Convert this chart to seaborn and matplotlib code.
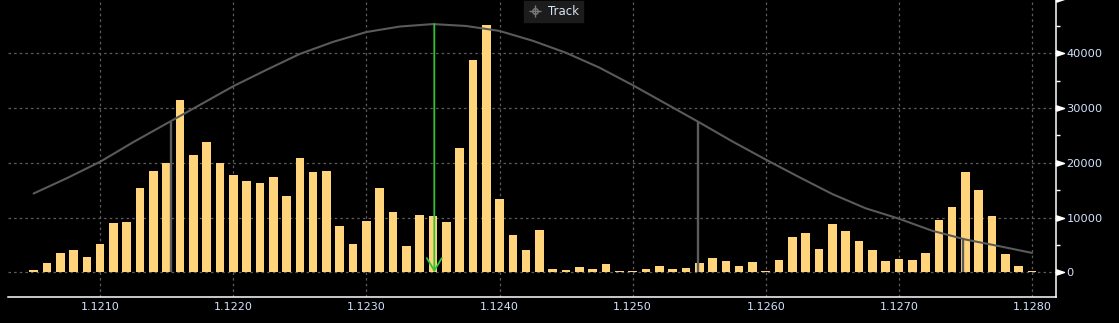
import matplotlib
matplotlib.use("Agg")
import matplotlib.pyplot as plt
import seaborn as sns
import pandas as pd
from matplotlib.lines import Line2D

# ---------------- data ----------------
prices = [1.1205, 1.1206, 1.1207, 1.1208, 1.1209, 1.1210, 1.1211, 1.1212, 1.1213, 1.1214,
          1.1215, 1.1216, 1.1217, 1.1218, 1.1219, 1.1220, 1.1221, 1.1222, 1.1223, 1.1224,
          1.1225, 1.1226, 1.1227, 1.1228, 1.1229, 1.1230, 1.1231, 1.1232, 1.1233, 1.1234,
          1.1235, 1.1236, 1.1237, 1.1238, 1.1239, 1.1240, 1.1241, 1.1242, 1.1243, 1.1244,
          1.1245, 1.1246, 1.1247, 1.1248, 1.1249, 1.1250, 1.1251, 1.1252, 1.1253, 1.1254,
          1.1255, 1.1256, 1.1257, 1.1258, 1.1259, 1.1260, 1.1261, 1.1262, 1.1263, 1.1264,
          1.1265, 1.1266, 1.1267, 1.1268, 1.1269, 1.1270, 1.1271, 1.1272, 1.1273, 1.1274,
          1.1275, 1.1276, 1.1277, 1.1278, 1.1279, 1.1280]
volumes = [400, 1700, 3500, 4000, 2800, 5150, 9000, 9150, 15350, 18600,
           19900, 31500, 21500, 23900, 19900, 17700, 16600, 16250, 17350, 13900,
           20800, 18400, 18600, 8400, 5150, 9350, 15350, 11000, 4800, 10400,
           10250, 9150, 22800, 38800, 45150, 13350, 6800, 4050, 7700, 600,
           400, 950, 600, 1500, 250, 250, 600, 1150, 600, 800,
           1700, 2600, 2050, 1150, 1900, 250, 2250, 6400, 7150, 4250,
           8800, 7500, 5700, 4050, 2050, 2400, 2250, 3500, 9500, 11900,
           18400, 15000, 10250, 3350, 1150, 250]

curve_x = [1.1205, 1.12075, 1.1210, 1.12125, 1.1215, 1.12175, 1.1220, 1.12225, 1.1225,
           1.12275, 1.1230, 1.12325, 1.1235, 1.12375, 1.1240, 1.12425, 1.1245, 1.12475,
           1.1250, 1.12525, 1.1255, 1.12575, 1.1260, 1.12625, 1.1265, 1.12675, 1.1270,
           1.12725, 1.1275, 1.12775, 1.1280]
curve_y = [14400, 17200, 20200, 23800, 27200, 30600, 34000, 37000, 39900,
           42100, 43900, 44900, 45350, 45000, 44100, 42300, 40100, 37400,
           34200, 30800, 27400, 23900, 20600, 17400, 14300, 11700, 9800,
           7600, 6000, 4800, 3550]

sigma_x = [1.12153, 1.12549, 1.12748]
sigma_top = [27500, 27500, 6200]
mean_x = 1.12351
mean_top = 45350

x_ticks = [1.1210, 1.1220, 1.1230, 1.1240, 1.1250, 1.1260, 1.1270, 1.1280]
y_ticks = [0, 10000, 20000, 30000, 40000]
y_marks = [0, 10000, 20000, 30000, 40000, 50000]
y_minor = [5000, 15000, 25000, 35000, 45000]
legend_label = "Track"

# ---------------- style ----------------
sns.set_theme(style="dark")
plt.rcParams["font.family"] = ["DejaVu Sans"]

BAR = "#FFD47A"
LABEL = "#d2e3ff"
GRID = "#5e5e5e"

fig = plt.figure(figsize=(11.19, 3.23), dpi=100, facecolor="black")
ax = fig.add_axes([8.3 / 1119, 1 - 296.7 / 323, (1056 - 8.3) / 1119, 296.7 / 323])
ax.set_facecolor("black")

df = pd.DataFrame({"price": prices, "volume": volumes})
sns.barplot(data=df, x="price", y="volume", native_scale=True, width=0.65,
            color=BAR, saturation=1, linewidth=0, ax=ax, zorder=2, errorbar=None)

sns.lineplot(x=curve_x, y=curve_y, color="#5a5a5a", linewidth=1.5, ax=ax, zorder=3)

ax.vlines(sigma_x, 0, sigma_top, colors="#5c5c5c", linewidth=1.7, zorder=4)

ax.annotate("", xy=(mean_x, 0), xytext=(mean_x, mean_top),
            arrowprops=dict(arrowstyle="->,head_length=0.45,head_width=0.27",
                            color="#33c233", lw=1.3, shrinkA=0, shrinkB=0,
                            mutation_scale=20), zorder=5)

ax.set_xlim(1.12031, 1.12818)
ax.set_ylim(-4450, 49750)

ax.set_xticks(x_ticks)
ax.set_xticklabels([f"{v:.4f}" for v in x_ticks])
ax.yaxis.tick_right()
ax.set_yticks(y_ticks)
ax.set_yticklabels([str(v) for v in y_ticks])
ax.set_yticks(y_minor, minor=True)
ax.set_xlabel("")
ax.set_ylabel("")

ax.tick_params(axis="x", which="major", length=0, pad=4, labelcolor=LABEL, labelsize=8)
ax.tick_params(axis="y", which="major", length=0, pad=7.5, labelcolor=LABEL, labelsize=8.2,
               left=False, right=True)
ax.tick_params(axis="y", which="minor", length=3, width=1, color="white",
               direction="out", left=False, right=True)

ax.grid(True, which="major", color=GRID, linestyle=(0, (2, 2.5)), linewidth=0.9)
ax.set_axisbelow(True)

for s in ["left", "top"]:
    ax.spines[s].set_visible(False)
for s in ["right", "bottom"]:
    ax.spines[s].set_visible(True)
    ax.spines[s].set_color("white")
    ax.spines[s].set_linewidth(1.1)

# triangle major tick markers on right spine
tri = [(0, -1), (3, 0), (0, 1), (0, -1)]
ax.plot([1.0] * len(y_marks), y_marks, transform=ax.get_yaxis_transform(),
        marker=tri, markersize=11.5, color="white", linestyle="none",
        clip_on=False, zorder=6)

# "Track" legend
h1 = Line2D([], [], marker="+", ms=9, mew=1, color="#7a7a7a", linestyle="none")
h2 = Line2D([], [], marker="o", ms=4, mew=1, mfc="none", mec="#7a7a7a", linestyle="none")
leg = fig.legend([(h1, h2)], [legend_label], loc="upper center",
                 bbox_to_anchor=(553.5 / 1119, 0.997), frameon=True, fancybox=False,
                 facecolor="#1c1c1c", edgecolor="#1c1c1c", framealpha=1,
                 fontsize=8.5, handlelength=1.2, handletextpad=0.5,
                 borderpad=0.35, borderaxespad=0)
for t in leg.get_texts():
    t.set_color("#d8e4f5")

fig.savefig("out.png", dpi=100, facecolor="black")
